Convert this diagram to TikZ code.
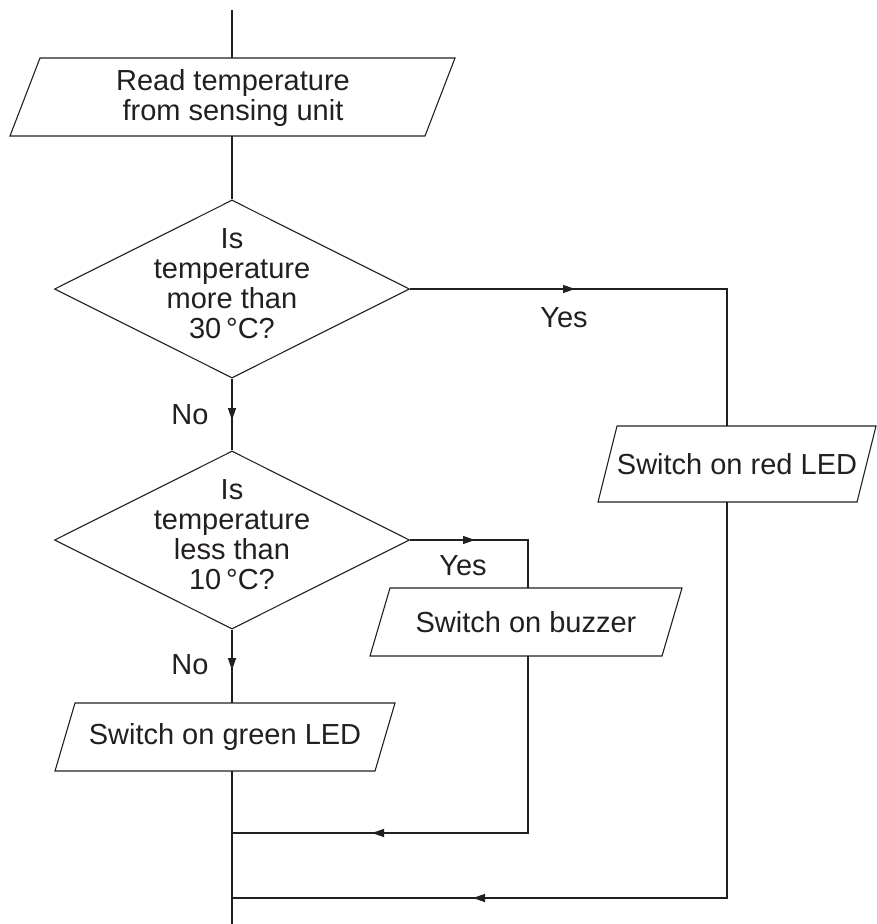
\documentclass[tikz,border=0pt]{standalone}
\usepackage{fontspec}
\setmainfont{Liberation Sans}
\usetikzlibrary{shapes.geometric,arrows.meta}
\definecolor{ink}{HTML}{231F20}
\tikzset{
  flowline/.style={line width=1.3pt, draw=ink},
  iobox/.style={line width=1.1pt, draw=ink, line join=miter},
  txt/.style={text=ink, align=center, inner sep=0pt,
    font=\fontsize{29}{30}\selectfont},
  decision/.style={draw=ink, line width=1.1pt, shape=diamond, inner sep=0pt,
    minimum width=355pt, minimum height=178pt},
  midarrow/.style={flowline, -{Triangle[length=12pt,width=8pt]}},
}
\begin{document}
\begin{tikzpicture}[x=1pt,y=-1pt]
\useasboundingbox (0,0) rectangle (877,924);

% input / output boxes (parallelograms)
\draw[iobox] (40,58) -- (455,58) -- (425,136) -- (10,136) -- cycle;
\node[txt] (read) at (233,98) {Read temperature\\from sensing unit};

\draw[iobox] (617,426) -- (876,426) -- (857,502) -- (598,502) -- cycle;
\node[txt] (red) at (737,464) {Switch on red LED};

\draw[iobox] (390,588) -- (682,588) -- (662,656) -- (370,656) -- cycle;
\node[txt] (buzz) at (526,622) {Switch on buzzer};

\draw[iobox] (75,703) -- (395,703) -- (375,771) -- (55,771) -- cycle;
\node[txt] (green) at (225,737) {Switch on green LED};

% decisions
\node[decision] (d1) at (232,289) {};
\node[txt] (q1) at (232,284) {Is\\temperature\\more than\\30\,°C?};
\node[decision] (d2) at (232,540) {};
\node[txt] (q2) at (232,535) {Is\\temperature\\less than\\10\,°C?};

% branch labels
\node[txt] (yes1) at (564,318) {Yes};
\node[txt] (no1) at (190,415) {No};
\node[txt] (yes2) at (463,566) {Yes};
\node[txt] (no2) at (190,665) {No};

% connection points on the boxes
\coordinate (start) at (232,10);
\coordinate (readN) at (232,58);
\coordinate (readS) at (232,136);
\coordinate (redN) at (727,426);
\coordinate (redS) at (727,502);
\coordinate (buzzN) at (528,588);
\coordinate (buzzS) at (528,656);
\coordinate (greenN) at (232,703);
\coordinate (greenS) at (232,771);
\coordinate (c1) at (727,289);
\coordinate (c2) at (528,540);
\coordinate (c3) at (528,833);
\coordinate (j1) at (232,833);
\coordinate (c4) at (727,898);
\coordinate (j2) at (232,898);
\coordinate (finish) at (232,924);

% arrow tips placed along the lines
\coordinate (t1) at (575,289);
\coordinate (t2) at (232,420);
\coordinate (t3) at (475,540);
\coordinate (t4) at (232,670);
\coordinate (t5) at (372,833);
\coordinate (t6) at (473,898);

% connectors
\draw[flowline] (start) -- (readN);
\draw[flowline] (readS) -- (d1.north);
\draw[flowline] (d1.east) -- (c1) -- (redN);
\draw[flowline] (d1.south) -- (d2.north);
\draw[flowline] (d2.east) -- (c2) -- (buzzN);
\draw[flowline] (d2.south) -- (greenN);
\draw[flowline] (buzzS) -- (c3) -- (j1);
\draw[flowline] (redS) -- (c4) -- (j2);
\draw[flowline] (greenS) -- (finish);

\draw[midarrow] (d1.east) -- (t1);
\draw[midarrow] (d1.south) -- (t2);
\draw[midarrow] (d2.east) -- (t3);
\draw[midarrow] (d2.south) -- (t4);
\draw[midarrow] (c3) -- (t5);
\draw[midarrow] (c4) -- (t6);
\end{tikzpicture}
\end{document}
